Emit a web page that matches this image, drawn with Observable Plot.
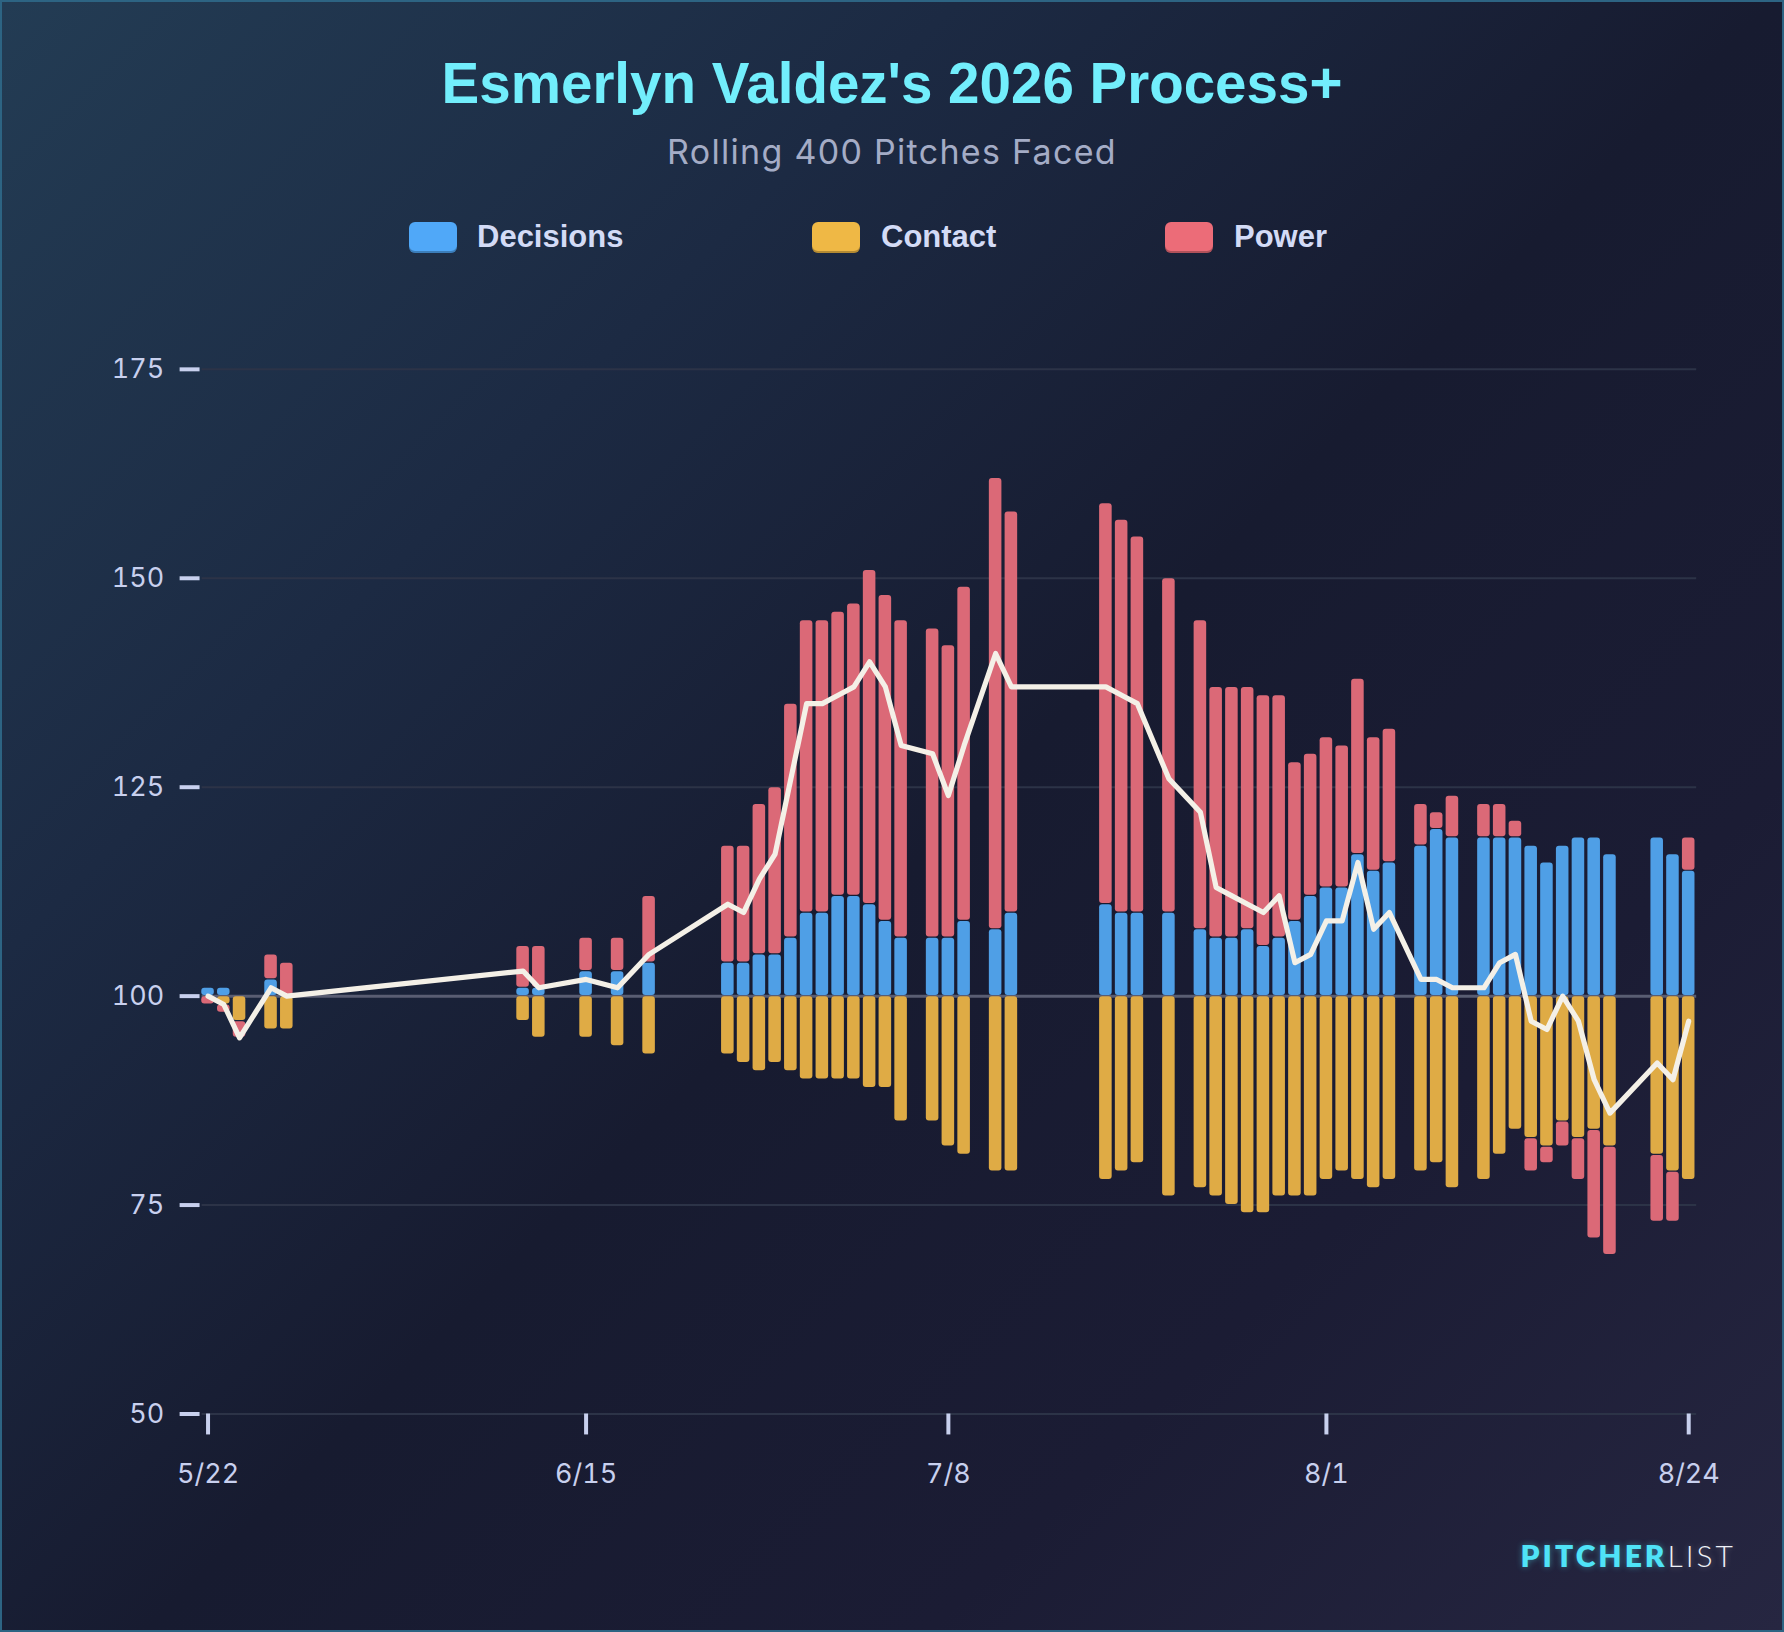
<!DOCTYPE html>
<html>
<head>
<meta charset="utf-8">
<script src="https://cdn.jsdelivr.net/npm/d3@7"></script>
<script src="https://cdn.jsdelivr.net/npm/@observablehq/plot@0.6"></script>
<style>
  html, body { margin: 0; padding: 0; background: #171a2e; }
  #page {
    position: relative; width: 1784px; height: 1632px; box-sizing: border-box;
    border: 2px solid #2d6483;
    background: linear-gradient(135deg, #233c54 0%, #1c2a43 28%, #171b30 52%, #1b1c34 75%, #262641 100%);
    overflow: hidden;
  }
  #title {
    position: absolute; left: 0; width: 100%; top: 54px; text-align: center;
    font-family: "Liberation Sans", Arial, sans-serif; font-weight: 700; font-size: 56.5px; line-height: 56px;
    color: #72eefc; margin: 0;
  }
  #subtitle {
    position: absolute; left: 0; width: 100%; top: 134px; text-align: center;
    font-family: Inter, "Noto Sans", sans-serif; font-weight: 400; font-size: 34px; line-height: 32px;
    letter-spacing: 1.3px; color: #a4acc6;
  }
  .sw { position: absolute; top: 220px; width: 48px; height: 31px; border-radius: 6px; box-shadow: inset 0 -2px 0 rgba(0,0,0,0.25); }
  .lt { position: absolute; top: 220px; font-family: "Liberation Sans", Arial, sans-serif; font-weight: 700;
        font-size: 31px; line-height: 30px; color: #d3dbf6; }
  #chart { position: absolute; left: 0; top: 298px; }
  #logo { position: absolute; right: 46px; top: 1538px; font-family: Lato, "Open Sans", sans-serif;
          font-size: 30px; line-height: 30px; letter-spacing: 3px; }
  #logo .a { color: #4fe3f7; font-weight: 800; text-shadow: 0 0 6px rgba(79,227,247,0.45); }
  #logo .b { color: #eef1f8; font-weight: 300; text-shadow: 0 0 6px rgba(255,255,255,0.3); }
</style>
</head>
<body>
<div id="page">
  <div id="title">Esmerlyn Valdez's 2026 Process+</div>
  <div id="subtitle">Rolling 400 Pitches Faced</div>
  <div id="legend"></div>
  <div id="chart"></div>
  <div id="logo"><span class="a">PITCHER</span><span class="b">LIST</span></div>
</div>
<script>
// ---- Data ----
const dates = [
  "2026-05-22","2026-05-23","2026-05-24","2026-05-26","2026-05-27",
  "2026-06-11","2026-06-12","2026-06-15","2026-06-17","2026-06-19",
  "2026-06-24","2026-06-25","2026-06-26","2026-06-27","2026-06-28","2026-06-29","2026-06-30",
  "2026-07-01","2026-07-02","2026-07-03","2026-07-04","2026-07-05","2026-07-07","2026-07-08",
  "2026-07-09","2026-07-11","2026-07-12","2026-07-18","2026-07-19","2026-07-20","2026-07-22",
  "2026-07-24","2026-07-25","2026-07-26","2026-07-27","2026-07-28","2026-07-29","2026-07-30",
  "2026-07-31","2026-08-01","2026-08-02","2026-08-03","2026-08-04","2026-08-05","2026-08-07",
  "2026-08-08","2026-08-09","2026-08-11","2026-08-12","2026-08-13","2026-08-14","2026-08-15",
  "2026-08-16","2026-08-17","2026-08-18","2026-08-19","2026-08-22","2026-08-23","2026-08-24"
];
const decisions = [1,1,0,2,0, 1,1,3,3,4, 4,4,5,5,7,10,10, 12,12,11,9,7,7,7, 9,8,10,11,10,10,10,
  8,7,7,8,6,7,9, 12,13,13,17,15,16,18, 20,19,19,19,19,18,16, 18,19,19,17,19,17,15];
const contact = [0,-1,-3,-4,-4, -3,-5,-5,-6,-7, -7,-8,-9,-8,-9,-10,-10, -10,-10,-11,-11,-15,-15,-18,
  -19,-21,-21,-22,-21,-20,-24, -23,-24,-25,-26,-26,-24,-24, -24,-22,-21,-22,-23,-22,-21,
  -20,-23,-22,-19,-16,-17,-18, -15,-17,-16,-18,-19,-21,-22];
const power = [-1,-1,-2,3,4, 5,5,4,4,8, 14,14,18,20,28,35,35, 34,35,40,39,38,37,35,
  40,54,48,48,47,45,40, 37,30,30,29,30,29,19, 17,18,17,21,16,16,5,
  2,5,4,4,2,-4,-2, -3,-5,-13,-13,-8,-6,4];
const processPlus = [100,99,95,101,100, 103,101,102,101,105, 111,110,114,117,126,135,135,
  136,137,140,137,130,129,124, 130,141,137,137,136,135,126, 122,113,112,111,110,112,104,
  105,109,109,116,108,110,102, 102,101,101,104,105,97,96, 100,97,90,86,92,90,97];

const components = ["Decisions", "Contact", "Power"];
const colors = ["#4f9fe6", "#dfab45", "#db6977"];
const legendColors = ["#50a8f8", "#efb845", "#ec6c78"];
const yTicks = [50, 75, 100, 125, 150, 175];
const xTicks = ["2026-05-22", "2026-06-15", "2026-07-08", "2026-08-01", "2026-08-24"];

// ---- Legend (HTML) ----
const legendPos = [[407, 475], [810, 879], [1163, 1232]];
const legend = document.getElementById("legend");
components.forEach((c, i) => {
  const sw = document.createElement("div");
  sw.className = "sw"; sw.style.left = legendPos[i][0] + "px"; sw.style.background = legendColors[i];
  const t = document.createElement("div");
  t.className = "lt"; t.style.left = legendPos[i][1] + "px"; t.textContent = c;
  legend.append(sw, t);
});

// ---- Build stacked segments around the 100 baseline ----
const parse = d3.utcParse("%Y-%m-%d");
const series = [decisions, contact, power];
const segments = [];
dates.forEach((ds, i) => {
  const date = parse(ds);
  let up = 100, down = 100;
  series.forEach((arr, k) => {
    const v = arr[i];
    if (v === 0) return;
    let y1, y2;
    if (v > 0) { y1 = up; y2 = up + v; up = y2; }
    else { y1 = down + v; y2 = down; down = y1; }
    segments.push({
      x1: d3.utcHour.offset(date, -12), x2: d3.utcHour.offset(date, 12),
      y1, y2, component: components[k]
    });
  });
});
const linePts = dates.map((ds, i) => ({date: parse(ds), value: processPlus[i]}));

const chart = Plot.plot({
  width: 1784,
  height: 1230,
  marginLeft: 200,
  marginRight: 86,
  marginTop: 69,
  marginBottom: 114,
  style: {background: "transparent", fontFamily: "Inter, 'Noto Sans', sans-serif", color: "#c8d0ee", overflow: "visible"},
  x: {type: "utc", domain: [parse(dates[0]), parse(dates[dates.length - 1])], insetLeft: 6, insetRight: 8},
  y: {domain: [50, 175]},
  color: {domain: components, range: colors},
  marks: [
    Plot.ruleY(yTicks.filter(t => t !== 100), {stroke: "#2c3347", strokeWidth: 2}),
    Plot.ruleY([100], {stroke: "#595d72", strokeWidth: 3}),
    Plot.rect(segments, {
      x1: "x1", x2: "x2", y1: "y1", y2: "y2", fill: "component",
      insetLeft: 1.6, insetRight: 1.6, insetTop: 0.6, insetBottom: 0.6, rx: 3
    }),
    Plot.line(linePts, {x: "date", y: "value", stroke: "#f4f0e7", strokeWidth: 5.2, strokeLinejoin: "round", strokeLinecap: "round"}),
    Plot.axisY({ticks: yTicks, tickSize: 20, tickPadding: 16, dx: -2, strokeWidth: 4, fontSize: 27, label: null, stroke: "#c8d0ee", fill: "#c8d0ee"}),
    Plot.axisX({ticks: xTicks.map(parse), tickFormat: d3.utcFormat("%-m/%-d"), tickSize: 21, tickPadding: 29,
      strokeWidth: 4, fontSize: 27, label: null, stroke: "#c8d0ee", fill: "#c8d0ee"})
  ]
});
document.getElementById("chart").append(chart);
</script>
</body>
</html>
